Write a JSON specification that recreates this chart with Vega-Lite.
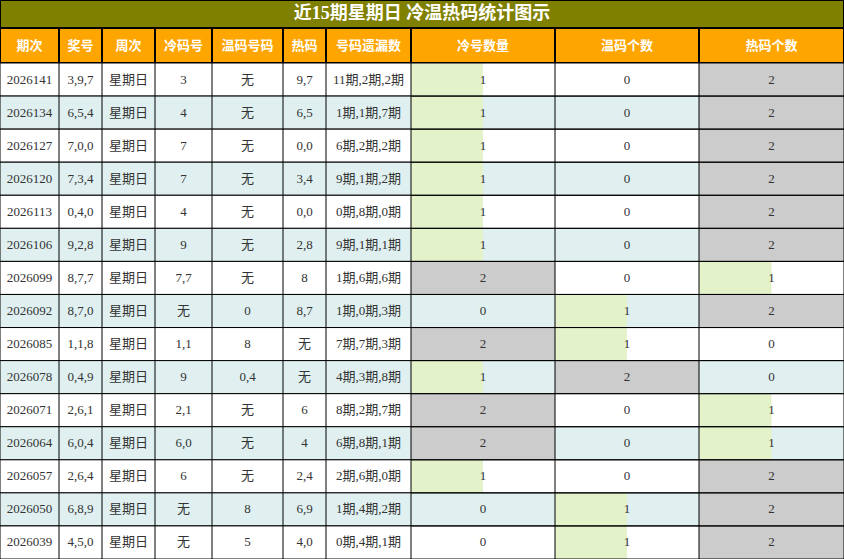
{
  "$schema": "https://vega.github.io/schema/vega-lite/v6.json",
  "padding": 0,
  "background": "white",
  "spacing": 0,
  "bounds": "flush",
  "datasets": {
    "rows": [
      {"期次": "2026141", "奖号": "3,9,7", "周次": "星期日", "冷码号": "3", "温码号码": "无", "热码": "9,7", "号码遗漏数": "11期,2期,2期", "冷号数量": 1, "温码个数": 0, "热码个数": 2},
      {"期次": "2026134", "奖号": "6,5,4", "周次": "星期日", "冷码号": "4", "温码号码": "无", "热码": "6,5", "号码遗漏数": "1期,1期,7期", "冷号数量": 1, "温码个数": 0, "热码个数": 2},
      {"期次": "2026127", "奖号": "7,0,0", "周次": "星期日", "冷码号": "7", "温码号码": "无", "热码": "0,0", "号码遗漏数": "6期,2期,2期", "冷号数量": 1, "温码个数": 0, "热码个数": 2},
      {"期次": "2026120", "奖号": "7,3,4", "周次": "星期日", "冷码号": "7", "温码号码": "无", "热码": "3,4", "号码遗漏数": "9期,1期,2期", "冷号数量": 1, "温码个数": 0, "热码个数": 2},
      {"期次": "2026113", "奖号": "0,4,0", "周次": "星期日", "冷码号": "4", "温码号码": "无", "热码": "0,0", "号码遗漏数": "0期,8期,0期", "冷号数量": 1, "温码个数": 0, "热码个数": 2},
      {"期次": "2026106", "奖号": "9,2,8", "周次": "星期日", "冷码号": "9", "温码号码": "无", "热码": "2,8", "号码遗漏数": "9期,1期,1期", "冷号数量": 1, "温码个数": 0, "热码个数": 2},
      {"期次": "2026099", "奖号": "8,7,7", "周次": "星期日", "冷码号": "7,7", "温码号码": "无", "热码": "8", "号码遗漏数": "1期,6期,6期", "冷号数量": 2, "温码个数": 0, "热码个数": 1},
      {"期次": "2026092", "奖号": "8,7,0", "周次": "星期日", "冷码号": "无", "温码号码": "0", "热码": "8,7", "号码遗漏数": "1期,0期,3期", "冷号数量": 0, "温码个数": 1, "热码个数": 2},
      {"期次": "2026085", "奖号": "1,1,8", "周次": "星期日", "冷码号": "1,1", "温码号码": "8", "热码": "无", "号码遗漏数": "7期,7期,3期", "冷号数量": 2, "温码个数": 1, "热码个数": 0},
      {"期次": "2026078", "奖号": "0,4,9", "周次": "星期日", "冷码号": "9", "温码号码": "0,4", "热码": "无", "号码遗漏数": "4期,3期,8期", "冷号数量": 1, "温码个数": 2, "热码个数": 0},
      {"期次": "2026071", "奖号": "2,6,1", "周次": "星期日", "冷码号": "2,1", "温码号码": "无", "热码": "6", "号码遗漏数": "8期,2期,7期", "冷号数量": 2, "温码个数": 0, "热码个数": 1},
      {"期次": "2026064", "奖号": "6,0,4", "周次": "星期日", "冷码号": "6,0", "温码号码": "无", "热码": "4", "号码遗漏数": "6期,8期,1期", "冷号数量": 2, "温码个数": 0, "热码个数": 1},
      {"期次": "2026057", "奖号": "2,6,4", "周次": "星期日", "冷码号": "6", "温码号码": "无", "热码": "2,4", "号码遗漏数": "2期,6期,0期", "冷号数量": 1, "温码个数": 0, "热码个数": 2},
      {"期次": "2026050", "奖号": "6,8,9", "周次": "星期日", "冷码号": "无", "温码号码": "8", "热码": "6,9", "号码遗漏数": "1期,4期,2期", "冷号数量": 0, "温码个数": 1, "热码个数": 2},
      {"期次": "2026039", "奖号": "4,5,0", "周次": "星期日", "冷码号": "无", "温码号码": "5", "热码": "4,0", "号码遗漏数": "0期,4期,1期", "冷号数量": 0, "温码个数": 1, "热码个数": 2}
    ]
  },
  "vconcat": [
    {
      "width": 844, "height": 28,
      "data": {"values": [{"标题": "近15期星期日 冷温热码统计图示"}]},
      "layer": [
        {"mark": {"type": "rect", "fill": "#808000", "stroke": "black", "strokeWidth": 2, "clip": true}},
        {"mark": {"type": "text", "color": "white", "fontSize": 18, "fontWeight": "bold", "font": "Liberation Serif, Noto Sans CJK SC", "clip": true}, "encoding": {"text": {"field": "标题"}}}
      ]
    },
    {
      "spacing": 0,
      "hconcat": [
        {"spacing": 0, "bounds": "flush", "vconcat": [
          {"width": 59, "height": 35, "data": {"values": [{"列": "期次"}]}, "layer": [{"mark": {"type": "rect", "fill": "#ffa500", "stroke": "black", "strokeWidth": 2, "clip": true}}, {"mark": {"type": "text", "color": "white", "fontSize": 13, "fontWeight": "bold", "font": "Noto Sans CJK SC", "clip": true}, "encoding": {"text": {"field": "列"}}}]},
          {"width": 59, "height": 496, "data": {"name": "rows"},
           "transform": [{"window": [{"op": "row_number", "as": "rn"}]}],
           "encoding": {"y": {"field": "期次", "type": "nominal", "sort": null, "axis": null, "scale": {"paddingInner": 0, "paddingOuter": 0}}},
           "layer": [
             {"mark": {"type": "rect", "stroke": "black", "strokeWidth": 1, "clip": true}, "encoding": {"fill": {"condition": {"test": "datum.rn % 2 === 0", "value": "#e0f0f0"}, "value": "#ffffff"}}},
             {"mark": {"type": "text", "font": "Liberation Serif, Noto Sans CJK SC", "fontSize": 13, "color": "#333333", "clip": true}, "encoding": {"text": {"field": "期次"}}}
           ]}
        ]},
        {"spacing": 0, "bounds": "flush", "vconcat": [
          {"width": 43, "height": 35, "data": {"values": [{"列": "奖号"}]}, "layer": [{"mark": {"type": "rect", "fill": "#ffa500", "stroke": "black", "strokeWidth": 2, "clip": true}}, {"mark": {"type": "text", "color": "white", "fontSize": 13, "fontWeight": "bold", "font": "Noto Sans CJK SC", "clip": true}, "encoding": {"text": {"field": "列"}}}]},
          {"width": 43, "height": 496, "data": {"name": "rows"},
           "transform": [{"window": [{"op": "row_number", "as": "rn"}]}],
           "encoding": {"y": {"field": "期次", "type": "nominal", "sort": null, "axis": null, "scale": {"paddingInner": 0, "paddingOuter": 0}}},
           "layer": [
             {"mark": {"type": "rect", "stroke": "black", "strokeWidth": 1, "clip": true}, "encoding": {"fill": {"condition": {"test": "datum.rn % 2 === 0", "value": "#e0f0f0"}, "value": "#ffffff"}}},
             {"mark": {"type": "text", "font": "Liberation Serif, Noto Sans CJK SC", "fontSize": 13, "color": "#333333", "clip": true}, "encoding": {"text": {"field": "奖号"}}}
           ]}
        ]},
        {"spacing": 0, "bounds": "flush", "vconcat": [
          {"width": 53, "height": 35, "data": {"values": [{"列": "周次"}]}, "layer": [{"mark": {"type": "rect", "fill": "#ffa500", "stroke": "black", "strokeWidth": 2, "clip": true}}, {"mark": {"type": "text", "color": "white", "fontSize": 13, "fontWeight": "bold", "font": "Noto Sans CJK SC", "clip": true}, "encoding": {"text": {"field": "列"}}}]},
          {"width": 53, "height": 496, "data": {"name": "rows"},
           "transform": [{"window": [{"op": "row_number", "as": "rn"}]}],
           "encoding": {"y": {"field": "期次", "type": "nominal", "sort": null, "axis": null, "scale": {"paddingInner": 0, "paddingOuter": 0}}},
           "layer": [
             {"mark": {"type": "rect", "stroke": "black", "strokeWidth": 1, "clip": true}, "encoding": {"fill": {"condition": {"test": "datum.rn % 2 === 0", "value": "#e0f0f0"}, "value": "#ffffff"}}},
             {"mark": {"type": "text", "font": "Liberation Serif, Noto Sans CJK SC", "fontSize": 13, "color": "#333333", "clip": true}, "encoding": {"text": {"field": "周次"}}}
           ]}
        ]},
        {"spacing": 0, "bounds": "flush", "vconcat": [
          {"width": 57, "height": 35, "data": {"values": [{"列": "冷码号"}]}, "layer": [{"mark": {"type": "rect", "fill": "#ffa500", "stroke": "black", "strokeWidth": 2, "clip": true}}, {"mark": {"type": "text", "color": "white", "fontSize": 13, "fontWeight": "bold", "font": "Noto Sans CJK SC", "clip": true}, "encoding": {"text": {"field": "列"}}}]},
          {"width": 57, "height": 496, "data": {"name": "rows"},
           "transform": [{"window": [{"op": "row_number", "as": "rn"}]}],
           "encoding": {"y": {"field": "期次", "type": "nominal", "sort": null, "axis": null, "scale": {"paddingInner": 0, "paddingOuter": 0}}},
           "layer": [
             {"mark": {"type": "rect", "stroke": "black", "strokeWidth": 1, "clip": true}, "encoding": {"fill": {"condition": {"test": "datum.rn % 2 === 0", "value": "#e0f0f0"}, "value": "#ffffff"}}},
             {"mark": {"type": "text", "font": "Liberation Serif, Noto Sans CJK SC", "fontSize": 13, "color": "#333333", "clip": true}, "encoding": {"text": {"field": "冷码号"}}}
           ]}
        ]},
        {"spacing": 0, "bounds": "flush", "vconcat": [
          {"width": 71, "height": 35, "data": {"values": [{"列": "温码号码"}]}, "layer": [{"mark": {"type": "rect", "fill": "#ffa500", "stroke": "black", "strokeWidth": 2, "clip": true}}, {"mark": {"type": "text", "color": "white", "fontSize": 13, "fontWeight": "bold", "font": "Noto Sans CJK SC", "clip": true}, "encoding": {"text": {"field": "列"}}}]},
          {"width": 71, "height": 496, "data": {"name": "rows"},
           "transform": [{"window": [{"op": "row_number", "as": "rn"}]}],
           "encoding": {"y": {"field": "期次", "type": "nominal", "sort": null, "axis": null, "scale": {"paddingInner": 0, "paddingOuter": 0}}},
           "layer": [
             {"mark": {"type": "rect", "stroke": "black", "strokeWidth": 1, "clip": true}, "encoding": {"fill": {"condition": {"test": "datum.rn % 2 === 0", "value": "#e0f0f0"}, "value": "#ffffff"}}},
             {"mark": {"type": "text", "font": "Liberation Serif, Noto Sans CJK SC", "fontSize": 13, "color": "#333333", "clip": true}, "encoding": {"text": {"field": "温码号码"}}}
           ]}
        ]},
        {"spacing": 0, "bounds": "flush", "vconcat": [
          {"width": 43, "height": 35, "data": {"values": [{"列": "热码"}]}, "layer": [{"mark": {"type": "rect", "fill": "#ffa500", "stroke": "black", "strokeWidth": 2, "clip": true}}, {"mark": {"type": "text", "color": "white", "fontSize": 13, "fontWeight": "bold", "font": "Noto Sans CJK SC", "clip": true}, "encoding": {"text": {"field": "列"}}}]},
          {"width": 43, "height": 496, "data": {"name": "rows"},
           "transform": [{"window": [{"op": "row_number", "as": "rn"}]}],
           "encoding": {"y": {"field": "期次", "type": "nominal", "sort": null, "axis": null, "scale": {"paddingInner": 0, "paddingOuter": 0}}},
           "layer": [
             {"mark": {"type": "rect", "stroke": "black", "strokeWidth": 1, "clip": true}, "encoding": {"fill": {"condition": {"test": "datum.rn % 2 === 0", "value": "#e0f0f0"}, "value": "#ffffff"}}},
             {"mark": {"type": "text", "font": "Liberation Serif, Noto Sans CJK SC", "fontSize": 13, "color": "#333333", "clip": true}, "encoding": {"text": {"field": "热码"}}}
           ]}
        ]},
        {"spacing": 0, "bounds": "flush", "vconcat": [
          {"width": 85, "height": 35, "data": {"values": [{"列": "号码遗漏数"}]}, "layer": [{"mark": {"type": "rect", "fill": "#ffa500", "stroke": "black", "strokeWidth": 2, "clip": true}}, {"mark": {"type": "text", "color": "white", "fontSize": 13, "fontWeight": "bold", "font": "Noto Sans CJK SC", "clip": true}, "encoding": {"text": {"field": "列"}}}]},
          {"width": 85, "height": 496, "data": {"name": "rows"},
           "transform": [{"window": [{"op": "row_number", "as": "rn"}]}],
           "encoding": {"y": {"field": "期次", "type": "nominal", "sort": null, "axis": null, "scale": {"paddingInner": 0, "paddingOuter": 0}}},
           "layer": [
             {"mark": {"type": "rect", "stroke": "black", "strokeWidth": 1, "clip": true}, "encoding": {"fill": {"condition": {"test": "datum.rn % 2 === 0", "value": "#e0f0f0"}, "value": "#ffffff"}}},
             {"mark": {"type": "text", "font": "Liberation Serif, Noto Sans CJK SC", "fontSize": 13, "color": "#333333", "clip": true}, "encoding": {"text": {"field": "号码遗漏数"}}}
           ]}
        ]},
        {"spacing": 0, "bounds": "flush", "vconcat": [
          {"width": 144, "height": 35, "data": {"values": [{"列": "冷号数量"}]}, "layer": [{"mark": {"type": "rect", "fill": "#ffa500", "stroke": "black", "strokeWidth": 2, "clip": true}}, {"mark": {"type": "text", "color": "white", "fontSize": 13, "fontWeight": "bold", "font": "Noto Sans CJK SC", "clip": true}, "encoding": {"text": {"field": "列"}}}]},
          {"width": 144, "height": 496, "data": {"name": "rows"},
           "transform": [{"window": [{"op": "row_number", "as": "rn"}]}],
           "encoding": {"y": {"field": "期次", "type": "nominal", "sort": null, "axis": null, "scale": {"paddingInner": 0, "paddingOuter": 0}}},
           "layer": [
             {"mark": {"type": "rect", "clip": true}, "encoding": {"fill": {"condition": {"test": "datum.rn % 2 === 0", "value": "#e0f0f0"}, "value": "#ffffff"}}},
             {"mark": {"type": "bar", "clip": true}, "encoding": {"x": {"field": "冷号数量", "type": "quantitative", "scale": {"domain": [0, 2]}, "axis": null}, "fill": {"condition": {"test": "datum['冷号数量'] >= 2", "value": "#cccccc"}, "value": "#e3f2c9"}}},
             {"mark": {"type": "rect", "fillOpacity": 0, "stroke": "black", "strokeWidth": 1, "clip": true}},
             {"mark": {"type": "text", "font": "Liberation Serif, Noto Sans CJK SC", "fontSize": 13, "color": "#333333", "clip": true}, "encoding": {"text": {"field": "冷号数量"}}}
           ]}
        ]},
        {"spacing": 0, "bounds": "flush", "vconcat": [
          {"width": 144, "height": 35, "data": {"values": [{"列": "温码个数"}]}, "layer": [{"mark": {"type": "rect", "fill": "#ffa500", "stroke": "black", "strokeWidth": 2, "clip": true}}, {"mark": {"type": "text", "color": "white", "fontSize": 13, "fontWeight": "bold", "font": "Noto Sans CJK SC", "clip": true}, "encoding": {"text": {"field": "列"}}}]},
          {"width": 144, "height": 496, "data": {"name": "rows"},
           "transform": [{"window": [{"op": "row_number", "as": "rn"}]}],
           "encoding": {"y": {"field": "期次", "type": "nominal", "sort": null, "axis": null, "scale": {"paddingInner": 0, "paddingOuter": 0}}},
           "layer": [
             {"mark": {"type": "rect", "clip": true}, "encoding": {"fill": {"condition": {"test": "datum.rn % 2 === 0", "value": "#e0f0f0"}, "value": "#ffffff"}}},
             {"mark": {"type": "bar", "clip": true}, "encoding": {"x": {"field": "温码个数", "type": "quantitative", "scale": {"domain": [0, 2]}, "axis": null}, "fill": {"condition": {"test": "datum['温码个数'] >= 2", "value": "#cccccc"}, "value": "#e3f2c9"}}},
             {"mark": {"type": "rect", "fillOpacity": 0, "stroke": "black", "strokeWidth": 1, "clip": true}},
             {"mark": {"type": "text", "font": "Liberation Serif, Noto Sans CJK SC", "fontSize": 13, "color": "#333333", "clip": true}, "encoding": {"text": {"field": "温码个数"}}}
           ]}
        ]},
        {"spacing": 0, "bounds": "flush", "vconcat": [
          {"width": 145, "height": 35, "data": {"values": [{"列": "热码个数"}]}, "layer": [{"mark": {"type": "rect", "fill": "#ffa500", "stroke": "black", "strokeWidth": 2, "clip": true}}, {"mark": {"type": "text", "color": "white", "fontSize": 13, "fontWeight": "bold", "font": "Noto Sans CJK SC", "clip": true}, "encoding": {"text": {"field": "列"}}}]},
          {"width": 145, "height": 496, "data": {"name": "rows"},
           "transform": [{"window": [{"op": "row_number", "as": "rn"}]}],
           "encoding": {"y": {"field": "期次", "type": "nominal", "sort": null, "axis": null, "scale": {"paddingInner": 0, "paddingOuter": 0}}},
           "layer": [
             {"mark": {"type": "rect", "clip": true}, "encoding": {"fill": {"condition": {"test": "datum.rn % 2 === 0", "value": "#e0f0f0"}, "value": "#ffffff"}}},
             {"mark": {"type": "bar", "clip": true}, "encoding": {"x": {"field": "热码个数", "type": "quantitative", "scale": {"domain": [0, 2]}, "axis": null}, "fill": {"condition": {"test": "datum['热码个数'] >= 2", "value": "#cccccc"}, "value": "#e3f2c9"}}},
             {"mark": {"type": "rect", "fillOpacity": 0, "stroke": "black", "strokeWidth": 1, "clip": true}},
             {"mark": {"type": "text", "font": "Liberation Serif, Noto Sans CJK SC", "fontSize": 13, "color": "#333333", "clip": true}, "encoding": {"text": {"field": "热码个数"}}}
           ]}
        ]}
      ]
    }
  ],
  "config": {
    "view": {"stroke": null},
    "concat": {"spacing": 0}
  }
}
